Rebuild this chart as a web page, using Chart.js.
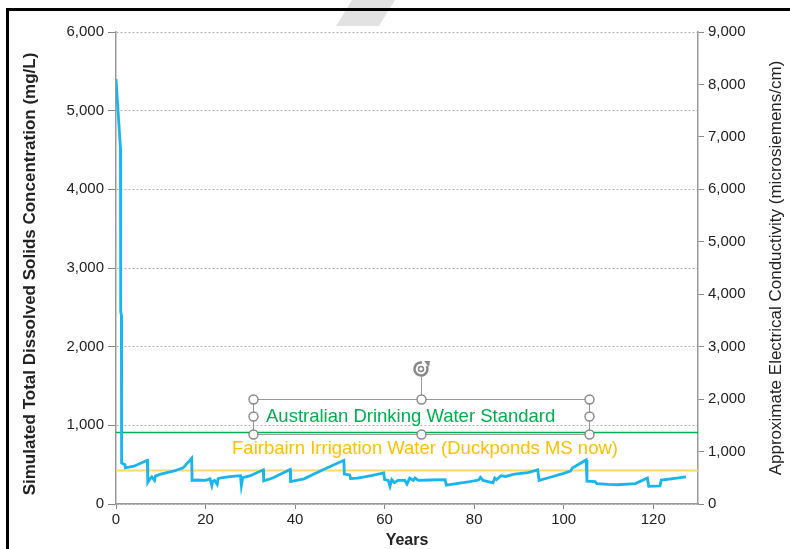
<!DOCTYPE html>
<html>
<head>
<meta charset="utf-8">
<script src="https://cdn.jsdelivr.net/npm/chart.js@4.4.1/dist/chart.umd.min.js"></script>
<style>
  html, body { margin: 0; padding: 0; background: #fff; }
  #wrap { width: 790px; height: 549px; position: relative; }
</style>
</head>
<body>
<div id="wrap"><canvas id="c" width="790" height="549"></canvas></div>
<script>
// simulated TDS (mg/L) against years
var years = [0, 1.0, 1.05, 1.2, 1.25, 2.0, 2.1, 4, 7.0, 7.1, 7.6, 8.0, 8.6, 8.8, 10, 13, 15, 16.9, 17.0,
  18, 20, 21.0, 21.4, 21.6, 22.0, 22.6, 22.8, 23.2, 25, 26.6, 27.8, 28.0, 28.3, 30, 32.9, 33.0, 35, 38.9, 39.0,
  42, 46, 50.9, 51.0, 52.2, 52.4, 54, 57, 59.8, 60.0, 60.8, 61.2, 61.6, 62.2, 63, 64.5, 65, 65.6, 66.4, 66.8,
  67.5, 70, 73.5, 73.8, 76, 79, 81, 81.4, 82, 84.2, 84.6, 85, 86, 87, 89, 92, 94.2, 94.5, 97, 100, 101.5,
  102, 105.0, 105.2, 107, 107.4, 110, 112, 116, 118.7, 119.0, 121.5, 121.8, 124, 127.3];
var tds = [5400, 4520, 2450, 2400, 520, 500, 460, 480, 555, 275, 320, 345, 300, 355, 380, 420, 460, 580, 300,
  305, 300, 320, 235, 290, 300, 250, 320, 330, 345, 355, 360, 235, 335, 360, 435, 295, 330, 440, 285,
  320, 430, 555, 380, 370, 325, 330, 360, 395, 310, 300, 225, 310, 270, 300, 300, 255, 330, 300, 330,
  300, 305, 310, 240, 260, 285, 305, 340, 300, 270, 330, 310, 360, 350, 380, 400, 435, 300, 340, 390,
  420, 460, 560, 290, 285, 260, 250, 245, 260, 330, 225, 230, 305, 320, 345];

var drinkingStd = 910;   // mg/L
var irrigation = 425;    // mg/L
var xRange = [0, 130];
var tdsRange = [0, 6000];
var ecRange = [0, 9000];

var leftTitle = 'Simulated Total Dissolved Solids Concentration (mg/L)';
var rightTitle = 'Approximate Electrical Conductivity (microsiemens/cm)';
var xTitle = 'Years';
var drinkingLabel = 'Australian Drinking Water Standard';
var irrigationLabel = 'Fairbairn Irrigation Water (Duckponds MS now)';

var FONT = "'Liberation Sans', Arial, sans-serif";

function flat(v) {
  return [{ x: xRange[0], y: v }, { x: xRange[1], y: v }];
}

function sideTitle(ctx, text, x, y, font) {
  ctx.save();
  ctx.translate(x, y);
  ctx.rotate(-Math.PI / 2);
  ctx.font = font;
  ctx.fillStyle = '#222';
  ctx.textAlign = 'center';
  ctx.textBaseline = 'middle';
  ctx.fillText(text, 0, 0);
  ctx.restore();
}

// frame, stray stripe, side titles, the selected text box
var markup = {
  id: 'markup',
  beforeDraw: function(chart) {
    var ctx = chart.ctx;
    ctx.save();
    ctx.fillStyle = '#e2e2e2';
    ctx.beginPath();
    ctx.moveTo(352, 0); ctx.lineTo(395, 0); ctx.lineTo(379, 26); ctx.lineTo(336, 26);
    ctx.closePath();
    ctx.fill();
    ctx.restore();
  },
  afterDraw: function(chart) {
    var ctx = chart.ctx;
    var area = chart.chartArea;
    ctx.save();
    // screenshot frame
    ctx.fillStyle = '#000';
    ctx.fillRect(6, 8, 784, 3);
    ctx.fillRect(6, 8, 3, 541);

    // both side titles read bottom to top
    sideTitle(ctx, leftTitle, 30, 274, 'bold 17px ' + FONT);
    sideTitle(ctx, rightTitle, 776, (area.top + area.bottom) / 2, '17px ' + FONT);

    // text box outline + handles
    var L = 253, M = 421, R = 589, T = 399, C = 416, B = 434;
    ctx.strokeStyle = '#999';
    ctx.lineWidth = 1;
    ctx.strokeRect(L + 0.5, T + 0.5, R - L, B - T);
    ctx.beginPath();
    ctx.moveTo(M + 0.5, T); ctx.lineTo(M + 0.5, 377);
    ctx.stroke();

    // rotate handle
    ctx.strokeStyle = '#888';
    ctx.lineWidth = 2.5;
    ctx.beginPath();
    ctx.arc(M, 369, 6.5, -0.15 * Math.PI, 1.55 * Math.PI);
    ctx.stroke();
    ctx.beginPath();
    ctx.arc(M, 369, 2.5, 0, Math.PI * 2);
    ctx.lineWidth = 1.5;
    ctx.stroke();
    ctx.fillStyle = '#888';
    ctx.beginPath();
    ctx.moveTo(M + 3, 361); ctx.lineTo(M + 9, 361); ctx.lineTo(M + 8, 367);
    ctx.closePath();
    ctx.fill();

    // labels
    ctx.font = '18.5px ' + FONT;
    ctx.textBaseline = 'middle';
    ctx.textAlign = 'left';
    ctx.fillStyle = '#00b050';
    ctx.fillText(drinkingLabel, 266, 417);
    ctx.textAlign = 'center';
    ctx.fillStyle = '#ffc000';
    ctx.fillText(irrigationLabel, 425, 449);

    var pts = [[L, T], [M, T], [R, T], [L, C], [R, C], [L, B], [M, B], [R, B]];
    ctx.lineWidth = 1.4;
    ctx.strokeStyle = '#888';
    ctx.fillStyle = '#fff';
    pts.forEach(function(p) {
      ctx.beginPath();
      ctx.arc(p[0] + 0.5, p[1] + 0.5, 4.5, 0, Math.PI * 2);
      ctx.fill();
      ctx.stroke();
    });
    ctx.restore();
  }
};

new Chart(document.getElementById('c'), {
  type: 'line',
  data: {
    datasets: [
      {
        label: 'TDS',
        data: years.map(function(x, i) { return { x: x, y: tds[i] }; }),
        borderColor: '#1ab4ee',
        borderWidth: 2.8,
        pointRadius: 0,
        tension: 0,
        order: 0
      },
      {
        label: drinkingLabel,
        data: flat(drinkingStd),
        borderColor: '#00b050',
        borderWidth: 1.5,
        pointRadius: 0,
        order: 1
      },
      {
        label: irrigationLabel,
        data: flat(irrigation),
        borderColor: '#ffd966',
        borderWidth: 2,
        pointRadius: 0,
        order: 1
      }
    ]
  },
  options: {
    responsive: false,
    animation: false,
    devicePixelRatio: 1,
    layout: { padding: { left: 10, right: 0, top: 32, bottom: 0 } },
    plugins: { legend: { display: false }, tooltip: { enabled: false } },
    scales: {
      x: {
        type: 'linear',
        position: 'bottom',
        min: xRange[0],
        max: xRange[1],
        afterBuildTicks: function(s) {
          s.ticks = s.ticks.filter(function(t) { return t.value % 20 === 0; });
        },
        afterFit: function(s) { s.height = 45; },
        ticks: { stepSize: 20, color: '#222', font: { family: FONT, size: 15 }, padding: 2, maxRotation: 0 },
        grid: { drawOnChartArea: false, tickLength: 5, tickColor: '#888' },
        border: { color: '#999', width: 1.5 },
        title: { display: true, text: xTitle, color: '#222', font: { family: FONT, size: 16, weight: 'bold' }, padding: { top: 0, bottom: -1 } }
      },
      y: {
        position: 'left',
        min: tdsRange[0],
        max: tdsRange[1],
        afterFit: function(s) { s.width = 106; },
        ticks: { stepSize: 1000, color: '#222', font: { family: FONT, size: 15 }, padding: 4 },
        grid: { color: '#b0b0b0', tickLength: 8, tickColor: '#888', tickBorderDash: [] },
        border: { color: '#999', width: 1.5, dash: [2, 2] }
      },
      y1: {
        position: 'right',
        min: ecRange[0],
        max: ecRange[1],
        afterFit: function(s) { s.width = 92; },
        ticks: { stepSize: 1000, color: '#222', font: { family: FONT, size: 15 }, padding: 4 },
        grid: { drawOnChartArea: false, tickLength: 6, tickColor: '#888' },
        border: { color: '#999', width: 1.5 }
      }
    }
  },
  plugins: [markup]
});
</script>
</body>
</html>
